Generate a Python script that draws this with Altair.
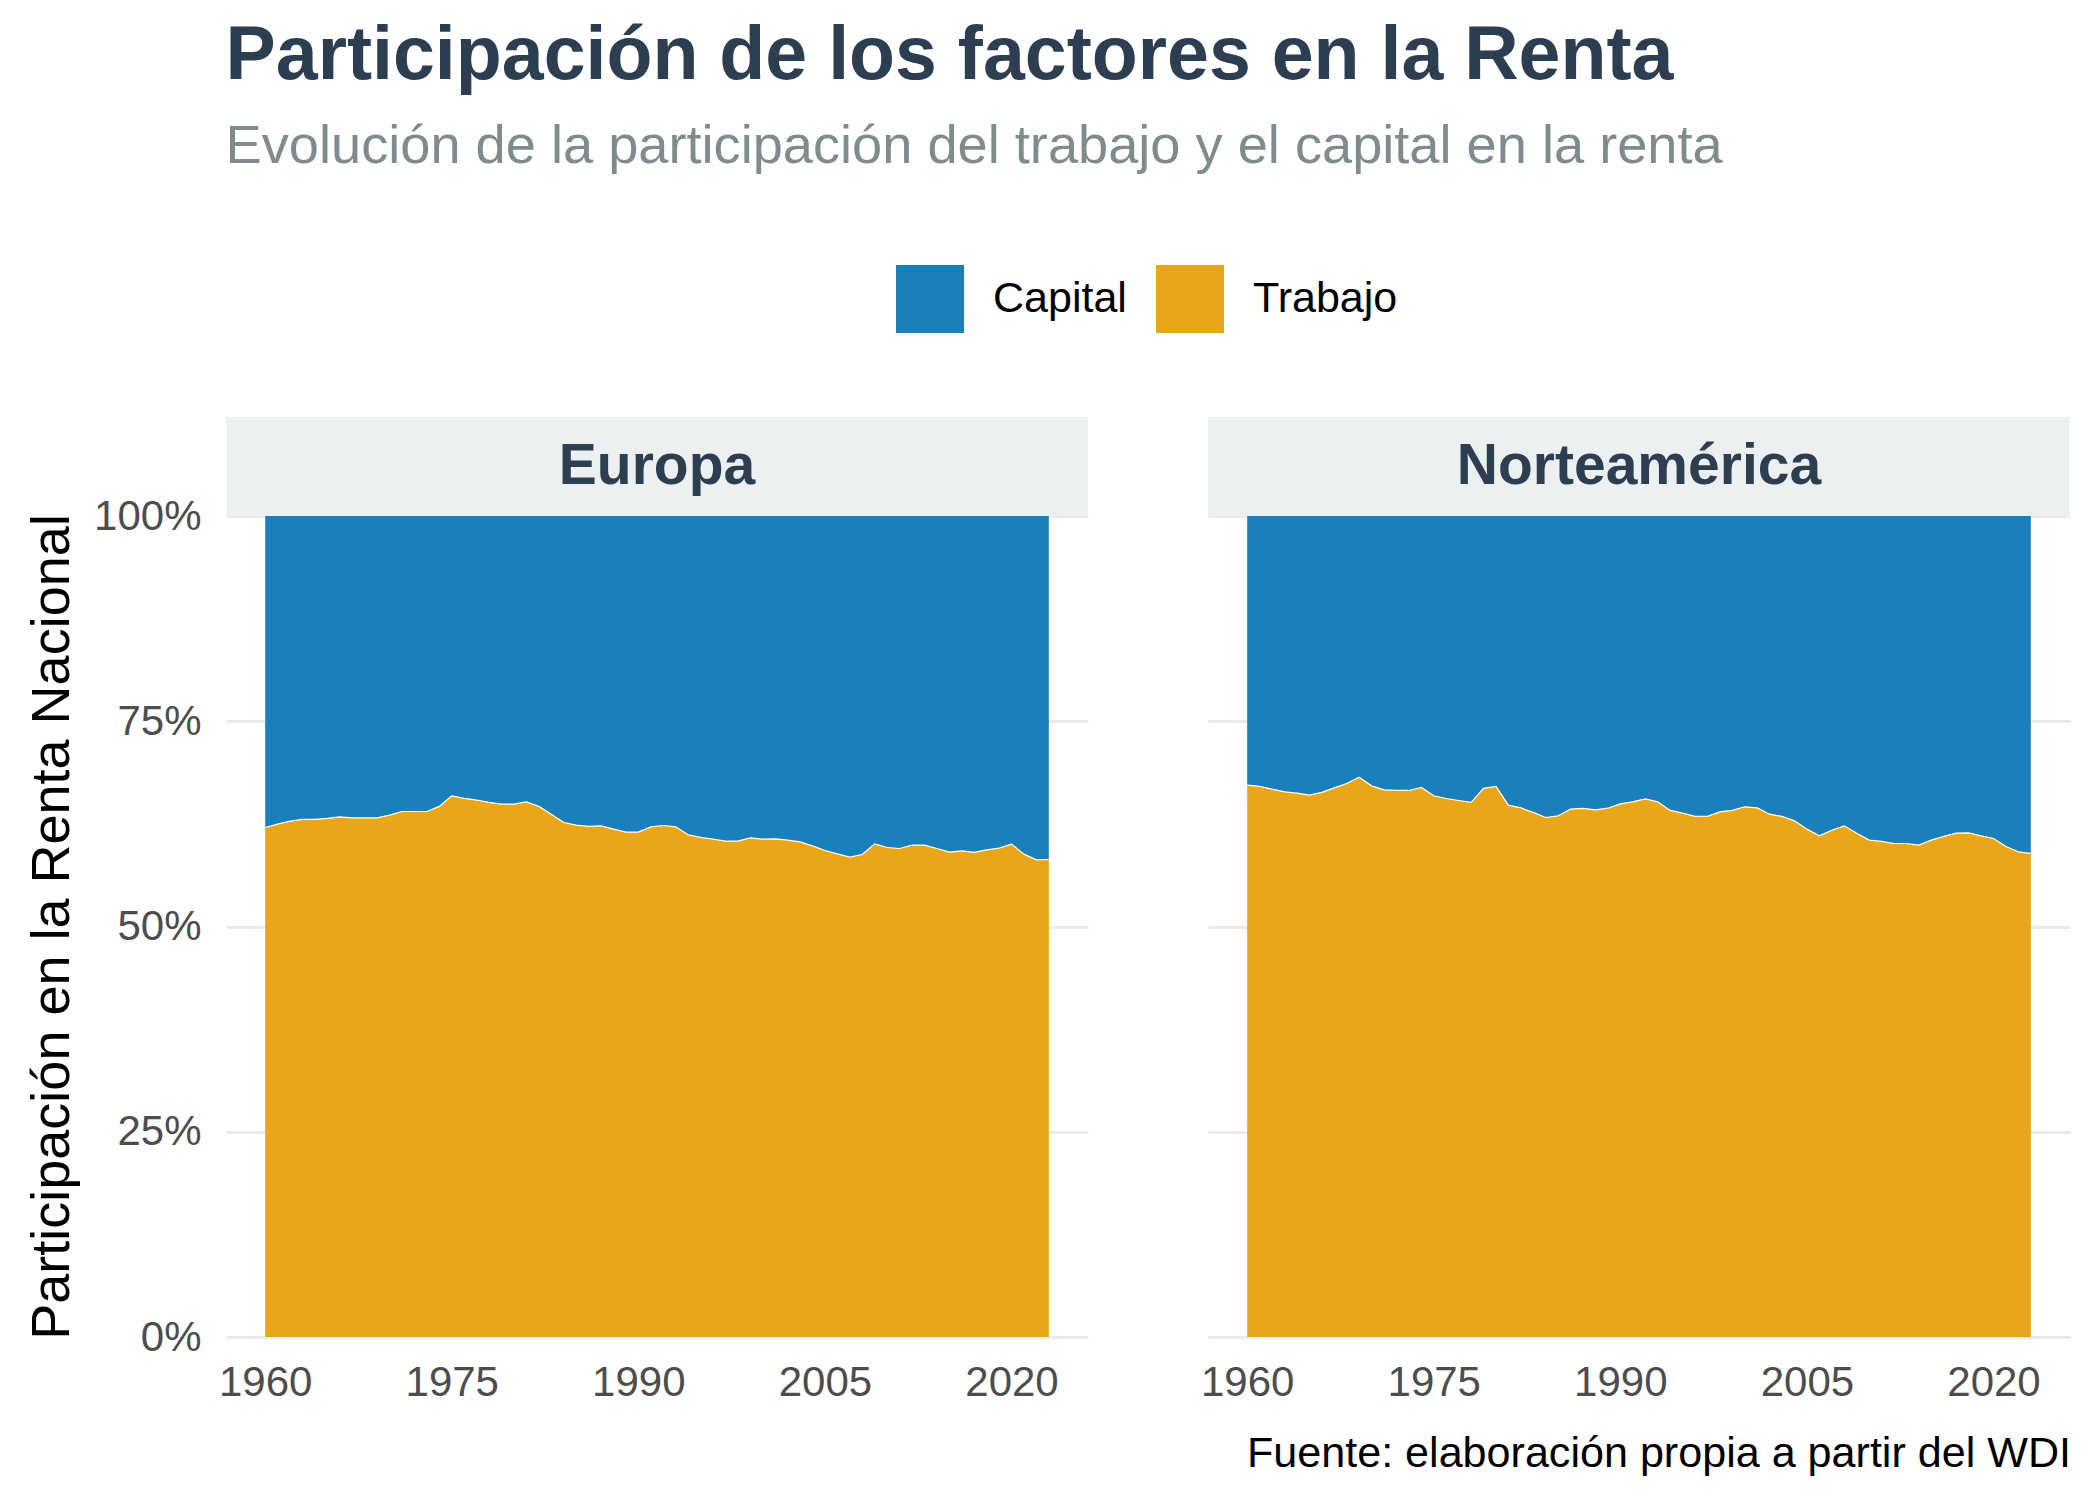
import altair as alt
import pandas as pd

# ---------------- data ----------------
years = list(range(1960, 2024))
europa_trabajo = [
    62.06, 62.47, 62.83, 63.04, 63.04, 63.16, 63.36, 63.23, 63.23, 63.23,
    63.56, 64.01, 64.01, 64.01, 64.63, 65.92, 65.60, 65.39, 65.11, 64.90,
    64.90, 65.18, 64.63, 63.68, 62.67, 62.34, 62.19, 62.26, 61.86, 61.49,
    61.49, 62.14, 62.30, 62.14, 61.17, 60.85, 60.64, 60.39, 60.39, 60.80,
    60.64, 60.68, 60.52, 60.31, 59.82, 59.26, 58.85, 58.45, 58.77, 60.07,
    59.62, 59.50, 59.91, 59.91, 59.50, 59.05, 59.21, 59.02, 59.33, 59.54,
    60.03, 58.81, 58.12, 58.16,
]
norteamerica_trabajo = [
    67.22, 67.06, 66.73, 66.40, 66.24, 66.00, 66.33, 66.89, 67.42, 68.19,
    67.13, 66.65, 66.57, 66.57, 66.94, 65.92, 65.59, 65.35, 65.11, 66.82,
    67.06, 64.78, 64.45, 63.90, 63.28, 63.48, 64.30, 64.38, 64.21, 64.41,
    64.94, 65.18, 65.55, 65.18, 64.14, 63.81, 63.41, 63.41, 63.96, 64.14,
    64.58, 64.45, 63.68, 63.41, 62.87, 61.86, 61.04, 61.73, 62.26, 61.37,
    60.52, 60.36, 60.11, 60.11, 59.91, 60.52, 60.97, 61.37, 61.41, 61.04,
    60.72, 59.75, 59.09, 58.90,
]
regions = ["Europa", "Norteamérica"]
factors = ["Capital", "Trabajo"]
factor_colors = ["#1A80BB", "#E8A71B"]
x_ticks = [1960, 1975, 1990, 2005, 2020]
y_ticks = [0, 0.25, 0.5, 0.75, 1.0]
title_text = "Participación de los factores en la Renta"
subtitle_text = "Evolución de la participación del trabajo y el capital en la renta"
y_title = "Participación en la Renta Nacional"
caption_text = "Fuente: elaboración propia a partir del WDI"

FONT = "Liberation Sans"
PW, PH = 862, 821
STRIP_H = 99


def panel(region, trabajo, first):
    rows = []
    for yr, t in zip(years, trabajo):
        rows.append({"year": yr, "factor": "Trabajo", "share": t / 100, "ord": 0})
        rows.append({"year": yr, "factor": "Capital", "share": 1 - t / 100, "ord": 1})
    df = pd.DataFrame(rows)
    line_df = df[df["factor"] == "Trabajo"]

    xenc = alt.X(
        "year:Q",
        scale=alt.Scale(domain=[1956.85, 2026.15], nice=False, zero=False),
        axis=alt.Axis(values=x_ticks, format="d", title=None, grid=False,
                      labelFontSize=42, labelColor="#4d4d4d", labelFont=FONT,
                      labelPadding=25, ticks=False, domain=False),
    )
    if first:
        yaxis = alt.Axis(values=y_ticks, format=".0%", title=y_title,
                         labelFontSize=42, labelColor="#4d4d4d", labelFont=FONT,
                         labelPadding=25, ticks=False, domain=False,
                         titleFontSize=54, titleFont=FONT, titleFontWeight="normal",
                         titleColor="black", titlePadding=14,
                         gridColor="#ebebeb", gridWidth=3)
    else:
        yaxis = alt.Axis(values=y_ticks, labels=False, title=None, ticks=False,
                         domain=False, gridColor="#ebebeb", gridWidth=3)
    yenc = alt.Y("share:Q", stack="zero",
                 scale=alt.Scale(domain=[0, 1], nice=False), axis=yaxis)

    area = alt.Chart(df).mark_area(interpolate="linear").encode(
        x=xenc,
        y=yenc,
        color=alt.Color(
            "factor:N",
            scale=alt.Scale(domain=factors, range=factor_colors),
            legend=alt.Legend(title=None, orient="none", direction="horizontal",
                              legendX=670, legendY=-251,
                              symbolType="square", symbolSize=4624,
                              symbolStrokeWidth=0, symbolOpacity=1,
                              labelFontSize=43, labelFont=FONT, labelColor="black",
                              labelOffset=29, columnPadding=29),
        ),
        order=alt.Order("ord:Q"),
    )
    line = alt.Chart(line_df).mark_line(color="white", strokeWidth=1.2).encode(
        x="year:Q", y="share:Q"
    )
    lab = pd.DataFrame({"region": [region]})
    strip = alt.Chart(lab).mark_rect(color="#ecf0f1").encode(
        x=alt.value(0), x2=alt.value(PW), y=alt.value(-STRIP_H), y2=alt.value(0)
    )
    strip_text = alt.Chart(lab).mark_text(
        font=FONT, fontSize=57, fontWeight="bold", color="#2c3e50",
        align="center", baseline="middle"
    ).encode(text="region:N", x=alt.value(PW / 2), y=alt.value(-STRIP_H / 2))
    layers = [area, line, strip, strip_text]
    if not first:
        cap = pd.DataFrame({"caption": [caption_text]})
        cap_mark = alt.Chart(cap).mark_text(
            font=FONT, fontSize=43.1, color="black", align="right", baseline="alphabetic"
        ).encode(text="caption:N", x=alt.value(PW + 1), y=alt.value(951))
        layers.append(cap_mark)
    return alt.layer(*layers).properties(width=PW, height=PH)


chart = alt.hconcat(
    panel(regions[0], europa_trabajo, True),
    panel(regions[1], norteamerica_trabajo, False),
    spacing=112,
).properties(
    title=alt.TitleParams(
        text=title_text, subtitle=subtitle_text, anchor="start", dx=200,
        font=FONT, fontSize=75.3, fontWeight="bold", color="#2c3e50",
        subtitleFont=FONT, subtitleFontSize=54.2, subtitleColor="#7f8c8d",
        subtitlePadding=25, offset=90,
    ),
    padding={"left": 17, "top": 10, "right": 5, "bottom": 5},
    background="white",
).configure_view(strokeWidth=0, stroke="transparent")

chart.save("out.html", embed_options={"renderer": "svg", "actions": False})
